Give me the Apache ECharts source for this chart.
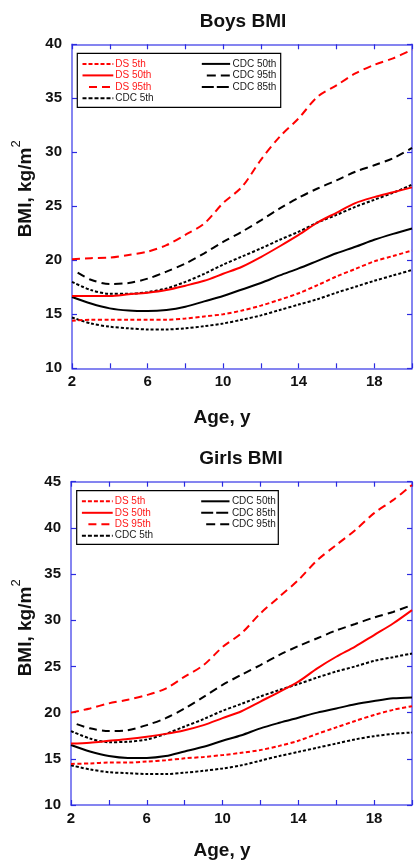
<!DOCTYPE html>
<html>
<head>
<meta charset="utf-8">
<script src="https://cdn.jsdelivr.net/npm/echarts@6/dist/echarts.min.js"></script>
<style>
html,body{margin:0;padding:0;background:#fff;}
#chart{width:415px;height:864px;}
</style>
</head>
<body>
<div id="chart"></div>
<script>
// ---- data ----
const ages = [2,3,4,5,6,7,8,9,10,11,12,13,14,15,16,17,18,19,20];
const ages95 = [2.3,3,4,5,6,7,8,9,10,11,12,13,14,15,16,17,18,19,20];
const xTickLabels = [2,6,10,14,18];

const boysDS5   = [14.4,14.5,14.5,14.5,14.5,14.5,14.6,14.8,15.0,15.35,15.8,16.35,16.95,17.7,18.5,19.2,19.9,20.4,20.9];
const boysDS50  = [16.7,16.7,16.7,16.85,17.0,17.25,17.65,18.1,18.75,19.4,20.3,21.3,22.35,23.5,24.4,25.3,25.85,26.3,26.75];
const boysDS95  = [20.1,20.2,20.25,20.5,20.8,21.4,22.35,23.4,25.3,26.8,29.3,31.45,33.15,35.15,36.2,37.3,38.1,38.7,39.5];
const boysCDC5  = [14.7,14.15,13.85,13.7,13.6,13.6,13.7,13.9,14.15,14.5,14.9,15.4,15.9,16.4,17.0,17.55,18.1,18.6,19.1];
const boysCDC50 = [16.6,16.0,15.55,15.35,15.3,15.4,15.7,16.2,16.7,17.3,17.9,18.6,19.25,19.95,20.65,21.25,21.9,22.45,22.95];
const boysCDC85 = [18.0,17.25,16.9,16.9,17.05,17.4,18.0,18.75,19.6,20.35,21.1,21.9,22.65,23.5,24.2,24.95,25.6,26.25,27.0];
const boysCDC95 = [18.85,18.2,17.8,17.9,18.3,18.95,19.7,20.65,21.7,22.65,23.7,24.8,25.8,26.65,27.4,28.2,28.8,29.45,30.4];

const girlsDS5   = [14.45,14.5,14.6,14.6,14.7,14.85,15.05,15.2,15.4,15.65,15.95,16.4,16.95,17.7,18.4,19.1,19.75,20.3,20.7];
const girlsDS50  = [16.65,16.75,16.95,17.15,17.4,17.7,18.1,18.65,19.4,20.15,21.2,22.25,23.35,24.8,26.05,27.15,28.4,29.65,31.1];
const girlsDS95  = [20.0,20.45,21.0,21.4,21.9,22.6,23.9,25.15,27.1,28.6,30.75,32.55,34.35,36.5,38.15,39.75,41.6,43.0,44.65];
const girlsCDC5  = [14.3,13.85,13.55,13.45,13.35,13.35,13.5,13.7,13.95,14.3,14.8,15.3,15.75,16.2,16.65,17.1,17.45,17.7,17.85];
const girlsCDC50 = [16.5,15.8,15.3,15.1,15.1,15.3,15.8,16.3,16.95,17.55,18.3,18.9,19.45,20.0,20.45,20.9,21.25,21.55,21.65];
const girlsCDC85 = [18.0,17.2,16.8,16.85,17.1,17.7,18.5,19.3,20.2,20.95,21.75,22.45,23.1,23.8,24.45,25.0,25.6,26.0,26.4];
const girlsCDC95 = [18.75,18.3,18.0,18.1,18.65,19.4,20.45,21.7,23.0,24.1,25.15,26.25,27.2,28.05,28.9,29.6,30.3,30.9,31.65];

const boysLegendLeft  = ['DS 5th','DS 50th','DS 95th','CDC 5th'];
const boysLegendRight = ['CDC 50th','CDC 95th','CDC 85th'];
const girlsLegendLeft  = ['DS 5th','DS 50th','DS 95th','CDC 5th'];
const girlsLegendRight = ['CDC 50th','CDC 85th','CDC 95th'];

// ---- styles ----
const RED = '#ff0000', BLK = '#000000';
const AXIS_BLUE = '#5c5cec', TICK_BLUE = '#2b2be0';
const FONT = 'Liberation Sans, Arial, sans-serif';
const styles = {
  'DS 5th':  {color: RED, dash: [4,2.5], w: 2},
  'DS 50th': {color: RED, dash: 'solid', w: 2},
  'DS 95th': {color: RED, dash: [8,5], w: 2},
  'CDC 5th': {color: BLK, dash: [3,2], w: 2},
  'CDC 50th':{color: BLK, dash: 'solid', w: 2},
  'CDC 85th':{color: BLK, dash: [3,2], w: 2},
  'CDC 95th':{color: BLK, dash: [8,5], w: 2}
};
const legendDash = {
  'DS 5th': [4,2], 'DS 50th': null, 'DS 95th': [8,5], 'CDC 5th': [4,2],
  'CDC 50th': null, 'CDC 95th': [9,5], 'CDC 85th': [12,3]
};

function zip(xs, ys){ return xs.map((x,i)=>[x, ys[i]]); }

function mkSeries(name, xs, ys, gi){
  const s = styles[name];
  return {
    type: 'line', name: name, xAxisIndex: gi*2, yAxisIndex: gi*2,
    data: zip(xs, ys), showSymbol: false, symbol: 'none', smooth: 0.3,
    lineStyle: {color: s.color, width: s.w, type: s.dash},
    z: name.indexOf('DS')===0 ? 3 : 2, silent: true
  };
}

function axesFor(gi, ymax){
  const base = {
    axisLine: {show: true, lineStyle: {color: AXIS_BLUE, width: 1.5}},
    axisTick: {show: true, inside: true, length: 5, lineStyle: {color: TICK_BLUE, width: 1.2}},
    splitLine: {show: false}
  };
  const xs = [
    Object.assign({}, base, {type:'value', gridIndex: gi, position:'bottom', min:2, max:20, interval:2,
      axisLabel: {margin: 6, color:'#111', fontFamily: FONT, fontWeight:'bold', fontSize:15,
        formatter: v => xTickLabels.indexOf(v) >= 0 ? String(v) : ''}}),
    Object.assign({}, base, {type:'value', gridIndex: gi, position:'top', min:2, max:20, interval:2,
      axisLabel: {show:false}})
  ];
  const ys = [
    Object.assign({}, base, {type:'value', gridIndex: gi, position:'left', min:10, max:ymax, interval:5,
      axisLabel: {margin: 10, color:'#111', fontFamily: FONT, fontWeight:'bold', fontSize:15}}),
    Object.assign({}, base, {type:'value', gridIndex: gi, position:'right', min:10, max:ymax, interval:5,
      axisLabel: {show:false}})
  ];
  return {xs, ys};
}

function legendGraphics(box, leftNames, rightNames){
  const els = [];
  els.push({type:'rect', shape:{x:box.x, y:box.y, width:box.w, height:box.h},
    style:{fill:'#fff', stroke:'#000', lineWidth:1.2}, z: 10});
  const rowOff = [10.6, 22.1, 33.6, 45];
  function addItem(name, row, lx1, lx2, tx){
    const st = styles[name];
    const y = box.y + rowOff[row];
    let x1 = lx1;
    if (name === 'DS 95th') x1 = lx1 + 6.5;
    if (name === 'CDC 95th') x1 = lx1 + (rightNames===boysLegendRight ? 5 : 5);
    const ls = {stroke: st.color, lineWidth: 2};
    if (legendDash[name]) ls.lineDash = legendDash[name];
    els.push({type:'line', shape:{x1:box.x + x1, y1:y, x2:box.x + lx2, y2:y}, style: ls, z: 11});
    els.push({type:'text', x: box.x + tx, y: y, z: 11,
      style:{text: name, fill: st.color===RED ? '#ff1a1a' : '#1a1a1a', font: '10px ' + FONT,
        textAlign:'left', textVerticalAlign:'middle'}});
  }
  leftNames.forEach((n,i)=>addItem(n, i, 5.2, 36, 38));
  rightNames.forEach((n,i)=>addItem(n, i, 124.5, 152.8, 155.2));
  return els;
}

const chart = echarts.init(document.getElementById('chart'), null, {renderer:'canvas'});
const a0 = axesFor(0, 40), a1 = axesFor(1, 45);

const series = [
  mkSeries('CDC 5th', ages, boysCDC5, 0),
  mkSeries('CDC 50th', ages, boysCDC50, 0),
  mkSeries('CDC 85th', ages, boysCDC85, 0),
  mkSeries('CDC 95th', ages95, boysCDC95, 0),
  mkSeries('DS 5th', ages, boysDS5, 0),
  mkSeries('DS 50th', ages, boysDS50, 0),
  mkSeries('DS 95th', ages, boysDS95, 0),
  mkSeries('CDC 5th', ages, girlsCDC5, 1),
  mkSeries('CDC 50th', ages, girlsCDC50, 1),
  mkSeries('CDC 85th', ages, girlsCDC85, 1),
  mkSeries('CDC 95th', ages95, girlsCDC95, 1),
  mkSeries('DS 5th', ages, girlsDS5, 1),
  mkSeries('DS 50th', ages, girlsDS50, 1),
  mkSeries('DS 95th', ages, girlsDS95, 1)
];

const titleFont = 'bold 19px ' + FONT;
const graphics = [
  {type:'text', x:243, y:22, style:{text:'Boys BMI', font: titleFont, fill:'#111', textAlign:'center', textVerticalAlign:'middle'}},
  {type:'text', x:222, y:418, style:{text:'Age, y', font: titleFont, fill:'#111', textAlign:'center', textVerticalAlign:'middle'}},
  {type:'text', x:26, y:192.5, rotation: Math.PI/2, style:{text:'BMI, kg/m', font: titleFont, fill:'#111', textAlign:'center', textVerticalAlign:'middle'}},
  {type:'text', x:16, y:144, rotation: Math.PI/2, style:{text:'2', font: '13px ' + FONT, fill:'#111', textAlign:'center', textVerticalAlign:'middle'}},
  {type:'text', x:241, y:459, style:{text:'Girls BMI', font: titleFont, fill:'#111', textAlign:'center', textVerticalAlign:'middle'}},
  {type:'text', x:222, y:851, style:{text:'Age, y', font: titleFont, fill:'#111', textAlign:'center', textVerticalAlign:'middle'}},
  {type:'text', x:26, y:631.5, rotation: Math.PI/2, style:{text:'BMI, kg/m', font: titleFont, fill:'#111', textAlign:'center', textVerticalAlign:'middle'}},
  {type:'text', x:16, y:583, rotation: Math.PI/2, style:{text:'2', font: '13px ' + FONT, fill:'#111', textAlign:'center', textVerticalAlign:'middle'}}
].concat(
  legendGraphics({x:77.3, y:53.3, w:203.4, h:54}, boysLegendLeft, boysLegendRight),
  legendGraphics({x:76.7, y:490.7, w:201.6, h:53.6}, girlsLegendLeft, girlsLegendRight)
);

chart.setOption({
  animation: false,
  backgroundColor: '#fff',
  grid: [
    {left:72, top:44.3, width:342, height:324},
    {left:71, top:481.7, width:341, height:323.3}
  ],
  xAxis: [a0.xs[0], a0.xs[1], a1.xs[0], a1.xs[1]],
  yAxis: [a0.ys[0], a0.ys[1], a1.ys[0], a1.ys[1]],
  series: series,
  graphic: graphics
});
</script>
</body>
</html>
